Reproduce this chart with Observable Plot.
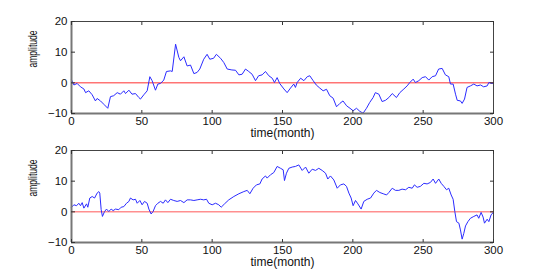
<!DOCTYPE html>
<html>
<head>
<meta charset="utf-8">
<script src="https://cdn.jsdelivr.net/npm/d3@7"></script>
<script src="https://cdn.jsdelivr.net/npm/@observablehq/plot@0.6"></script>
<style>
  html, body { margin: 0; padding: 0; background: #fff; }
  #chart svg { display: block; overflow: visible; }
</style>
</head>
<body>
<div id="chart"></div>
<script>
// ---- data ----
const months1 = [0,1.7,4,6.4,8.8,10,12.3,14.7,17,18.2,20.6,23,25.8,27.7,30,32.5,34.8,37.2,38.4,40.8,43,45.5,47.9,49,51.4,53.8,55.7,57.3,59.7,61.4,63.3,65.6,67.5,70.4,71.6,74,76.3,77.5,79.9,82.2,84.6,87,89.3,91.2,94,96.4,98.3,101,103,106,108.3,110.7,114,116.6,119,121.3,123.7,126,128.4,130.8,133,135.5,137.9,140.3,142.7,144.3,146.2,148,151,153.3,155.7,158,159.2,160.4,162.9,165.2,167.6,169.4,171.8,174,176.5,178.9,181.3,183.6,186,188.4,190.8,193,195.6,198,200.2,202.6,205,207.3,209.7,212,214.4,216,218.5,220.8,223.2,225.6,228,231,233.4,236.3,238.6,240.5,242.9,244.5,246.9,249.3,251.7,254,256.4,258.8,261,263.5,265.8,268.2,269.4,271.3,273,274.2,276.5,277.7,279.4,281.2,283.6,286,288.3,290.8,293,295.5,296.7,299,300];
const amp1 = [1.0,-0.7,-0.2,-1.3,-2.0,-3.2,-2.6,-3.9,-5.9,-5.1,-5.9,-7.0,-8.3,-4.5,-4.2,-3.2,-3.7,-2.6,-3.5,-2.4,-3.7,-3.5,-4.8,-5.3,-3.9,-2.6,2.0,0.7,-2.4,-0.4,-0.2,0.9,3.7,3.9,3.7,12.6,8.3,7.2,8.5,5.5,5.8,3.0,3.4,4.5,7.7,9.3,7.7,8.0,9.3,8.0,6.6,4.5,4.2,4.1,2.6,2.8,4.5,3.7,2.8,0.7,2.3,2.6,3.7,2.3,1.5,0.1,1.7,-0.2,-2.0,-3.2,-1.7,-0.4,-1.5,0.1,1.5,0.7,2.0,2.3,0.7,-0.7,-1.7,-2.6,-2.1,-4.2,-5.0,-7.8,-6.7,-5.9,-7.5,-8.3,-9.1,-8.3,-9.3,-9.9,-8.3,-6.4,-4.8,-3.2,-3.7,-6.1,-5.7,-4.8,-3.5,-4.8,-3.2,-2.0,-1.0,0.1,1.2,0.1,0.7,1.7,2.0,0.9,2.0,2.3,4.5,4.7,2.6,2.0,-0.4,-0.4,-3.7,-5.7,-5.9,-6.7,-5.3,-1.5,-1.0,-0.4,-1.0,-0.7,-1.3,-1.0,0.1,-0.2,0.0];

const months2 = [0,1.7,3.6,5.2,6.4,7.6,8.8,10.7,11.6,13,14.7,16.4,18.2,19.4,20.1,21.1,22,23.5,24.9,26.5,28.2,29.6,31.3,33.6,35.3,37.2,39.1,40.8,41.9,43.8,45.5,46.7,48.6,50.2,51.9,53.8,55,56.6,58,59.7,61.4,63.3,65.2,66.8,68.5,70.4,72.7,75.1,77.5,79.9,82.2,84.6,87,89.3,91.7,94,96,97.6,100,102.4,104.7,106.4,108.8,111.8,115.4,119,122.5,124.9,126.8,129.1,131.5,133.9,135.5,137.9,139.1,141.5,143.8,146.2,148.6,150.5,151.4,152.8,154.5,156.9,159.2,161.6,164,166.4,168.7,171.1,173.5,175.8,178.2,180.6,182.2,184.1,186.5,188.9,191.2,193.6,195.5,197.2,198.8,200.2,201.9,203.6,205.9,207.8,210.2,212.6,214.9,216.8,219.2,221.6,224,225.6,228,230.3,232.7,235,237.5,239.8,242.2,243.8,245.7,248,250.5,252.8,255.2,257.1,258.8,261.1,262.8,264.7,266.6,268.2,269.9,271.3,272.5,273.7,275.4,276.5,277.7,278.9,280.1,281.8,283.6,286,288.3,289.5,291.2,292.6,293.6,295.5,296.7,298.3,299.8];
const amp2 = [1.5,2.3,2.0,2.8,2.0,3.0,1.2,2.6,1.5,4.5,5.0,4.5,6.1,6.6,6.1,0.7,-1.5,0.1,0.9,0.1,0.9,0.4,0.9,0.7,1.5,1.7,2.8,3.4,4.5,3.9,4.1,2.8,3.7,2.3,3.4,2.8,0.9,-0.7,0.1,2.0,2.8,3.4,2.8,3.9,3.0,4.1,3.7,3.4,3.7,3.0,3.9,3.9,3.7,3.9,4.1,3.9,4.1,2.8,2.3,2.8,2.3,1.5,2.6,3.9,5.0,5.9,6.6,7.0,5.9,7.7,8.8,9.1,10.7,11.7,11.0,12.1,12.8,14.8,14.2,13.7,10.2,12.6,14.2,14.6,14.8,15.3,13.5,14.6,12.6,13.9,13.5,14.2,13.5,12.6,10.7,11.7,10.4,7.7,8.8,9.1,8.3,6.1,4.5,2.0,3.7,2.6,0.9,3.4,4.1,4.5,6.1,7.0,6.3,5.9,5.5,6.3,7.7,7.0,7.0,7.4,7.2,8.0,7.7,8.8,8.0,8.3,9.3,9.1,9.6,10.7,9.3,10.7,9.3,8.3,7.2,7.7,5.5,4.1,0.1,-3.2,-3.7,-5.9,-8.9,-7.0,-4.6,-3.2,-2.1,-1.5,-1.0,-2.1,-0.2,-1.7,-3.7,-2.4,-3.2,-1.0,-0.2];

const xDomain = [0, 300];
const yDomain = [-10, 20];
const xTicks = [0, 50, 100, 150, 200, 250, 300];
const yTicks = [-10, 0, 10, 20];
const baseline = [0];
const xLabel = "time(month)";
const yLabel = "amplitude";

const FONT = "'Liberation Sans', Arial, Helvetica, sans-serif";

function panel(months, amp, opts) {
  const data = months.map((m, i) => ({month: m, amp: amp[i]}));
  const plot = Plot.plot({
    width: 545,
    height: opts.height,
    marginLeft: 71,
    marginRight: 52,
    marginTop: opts.marginTop,
    marginBottom: opts.marginBottom,
    style: {fontFamily: FONT, fontSize: "12px", color: "#000", background: "#fff", overflow: "visible"},
    x: {domain: xDomain, axis: null},
    y: {domain: yDomain, axis: null},
    marks: [
      Plot.ruleY(baseline, {stroke: opts.zeroColor, strokeWidth: opts.zeroWidth}),
      Plot.line(data, {x: "month", y: "amp", stroke: "#2b2bff", strokeWidth: 1}),
      Plot.frame({stroke: "#444", strokeWidth: 1}),
      Plot.ruleX([xDomain[0]], {stroke: "#777", strokeWidth: 2}),
      Plot.ruleY([yDomain[0]], {stroke: "#777", strokeWidth: 2}),
      // inward tick marks
      Plot.axisX({ticks: xTicks, anchor: "bottom", tickSize: -3, text: null, label: null, stroke: "#333"}),
      Plot.axisX({ticks: xTicks, anchor: "top", tickSize: -3, text: null, label: null, stroke: "#333"}),
      Plot.axisY({ticks: yTicks, anchor: "left", tickSize: -4, text: null, label: null, stroke: "#333"}),
      Plot.axisY({ticks: yTicks, anchor: "right", tickSize: -4, text: null, label: null, stroke: "#333"}),
      // tick labels
      Plot.axisX({ticks: xTicks, anchor: "bottom", tickSize: 0, tickPadding: 3, label: null, fill: "#111", fontSize: 11.5}),
      Plot.axisY({ticks: yTicks, anchor: "left", tickSize: 0, tickPadding: 4, label: null, fill: "#111", fontSize: 11.5}),
      // axis titles
      Plot.text([xLabel], {frameAnchor: "bottom", dy: 19.5, fill: "#111", fontSize: 12, lineAnchor: "middle"}),
      Plot.text([yLabel], {frameAnchor: "left", dx: -38, rotate: -90, fill: "#111", fontSize: 12, lineAnchor: "middle", className: "ylab"})
    ]
  });
  // condensed rotated label as in the reference
  plot.querySelectorAll(".ylab text").forEach(t => {
    t.setAttribute("textLength", "37");
    t.setAttribute("lengthAdjust", "spacingAndGlyphs");
  });
  return plot;
}

const root = document.getElementById("chart");
root.appendChild(panel(months1, amp1, {height: 140, marginTop: 21, marginBottom: 27, zeroColor: "#ff3030", zeroWidth: 1}));
root.appendChild(panel(months2, amp2, {height: 133, marginTop: 10, marginBottom: 31, zeroColor: "#ff8f8f", zeroWidth: 1.5}));
</script>
</body>
</html>
